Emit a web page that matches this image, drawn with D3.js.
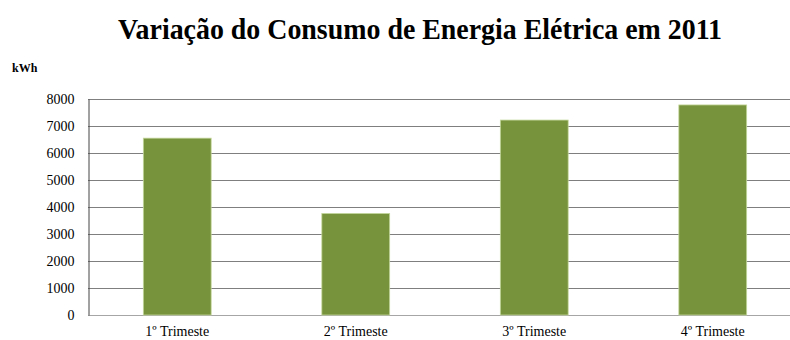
<!DOCTYPE html>
<html>
<head>
<meta charset="utf-8">
<script src="https://cdn.jsdelivr.net/npm/d3@7"></script>
<style>
  body { margin: 0; background: #fff; }
  svg text { font-family: "Liberation Serif", "Times New Roman", serif; fill: #000; }
</style>
</head>
<body>
<div id="chart"></div>
<script>
const categories = ['1º Trimeste', '2º Trimeste', '3º Trimeste', '4º Trimeste'];
const values = [6550, 3760, 7220, 7780];
const yTicks = [0, 1000, 2000, 3000, 4000, 5000, 6000, 7000, 8000];

const width = 790;
const height = 340;
const margin = { top: 99, right: -12, bottom: 25, left: 88 };
const serif = 'Liberation Serif, Times New Roman, serif';

const svg = d3.select('#chart')
  .append('svg')
  .attr('width', width)
  .attr('height', height);

// Scales
const xScale = d3.scaleBand()
  .domain(categories)
  .range([margin.left, width - margin.right]);

const yScale = d3.scaleLinear()
  .domain([0, 8000])
  .range([height - margin.bottom, margin.top]);

// Gridlines
svg.append('g')
  .selectAll('line')
  .data(yTicks)
  .enter()
  .append('line')
  .attr('x1', margin.left)
  .attr('x2', width - margin.right)
  .attr('y1', d => Math.round(yScale(d)) + 0.5)
  .attr('y2', d => Math.round(yScale(d)) + 0.5)
  .style('stroke', d => d === 0 ? '#a6a6a6' : '#7f7f7f')
  .style('stroke-width', 1);

// Y axis
const yAxis = svg.append('g')
  .attr('transform', `translate(${margin.left + 0.5}, 0)`)
  .call(d3.axisLeft(yScale)
    .tickValues(yTicks)
    .tickFormat(d3.format('d'))
    .tickSize(0)
    .tickPadding(14)
    .tickSizeOuter(0))
  .attr('font-family', serif)
  .attr('font-size', 14);
yAxis.select('.domain').style('stroke', '#444');

// Bars
const barWidth = xScale.bandwidth() * 0.38;
svg.append('g')
  .selectAll('rect')
  .data(values)
  .enter()
  .append('rect')
  .attr('x', (d, i) => xScale(categories[i]) + (xScale.bandwidth() - barWidth) / 2)
  .attr('y', d => yScale(d))
  .attr('width', barWidth)
  .attr('height', d => yScale(0) - yScale(d))
  .style('fill', '#77933c')
  .style('stroke', '#c3d69b')
  .style('stroke-width', 0.8);

// X labels
const xAxis = svg.append('g')
  .attr('transform', `translate(0, ${height - margin.bottom})`)
  .call(d3.axisBottom(xScale).tickSize(0).tickPadding(11))
  .attr('font-family', serif)
  .attr('font-size', 14);
xAxis.select('.domain').remove();

// Title
svg.append('text')
  .attr('x', 420)
  .attr('y', 39)
  .attr('text-anchor', 'middle')
  .attr('textLength', 604)
  .attr('lengthAdjust', 'spacingAndGlyphs')
  .style('font-size', '29px')
  .style('font-weight', 'bold')
  .text('Variação do Consumo de Energia Elétrica em 2011');

// Unit label
svg.append('text')
  .attr('x', 12)
  .attr('y', 72)
  .style('font-size', '12px')
  .style('font-weight', 'bold')
  .text('kWh');
</script>
</body>
</html>
